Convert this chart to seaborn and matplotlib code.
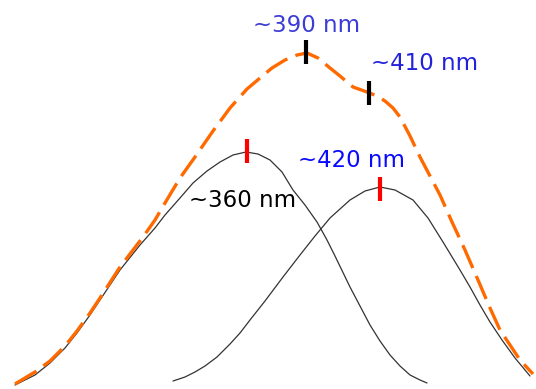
import matplotlib
matplotlib.use("Agg")
import matplotlib.pyplot as plt
import seaborn as sns
import pandas as pd

# curva da banda ~360 nm (posicao, intensidade)
x_360 = [15, 35, 50, 65, 77, 90, 100, 120, 140, 155, 165, 180, 193, 207, 220, 233,
         246, 258, 270, 282, 293, 305, 317, 327, 335, 350, 360, 370, 380, 390, 400,
         410, 420, 427]
y_360 = [4, 14, 26, 41, 56, 74, 89, 119, 144, 161, 174, 191, 206, 218, 227, 234,
         237, 235, 229, 217, 199, 184, 167, 149, 133, 102, 83, 64, 48, 34, 23,
         14, 9, 6]

# curva da banda ~420 nm
x_420 = [173, 185, 195, 205, 217, 230, 240, 250, 265, 283, 300, 315, 330, 350, 365,
         380, 395, 413, 428, 443, 460, 470, 480, 490, 502, 515, 530]
y_420 = [8, 12, 17, 23, 32, 45, 56, 69, 88, 112, 134, 153, 171, 189, 198,
         202, 199, 189, 171, 147, 119, 102, 84, 67, 49, 31, 13]

# envoltoria (soma) em laranja tracejado
x_env = [15, 35, 50, 65, 77, 90, 100, 120, 143, 155, 165, 180, 195, 213, 230, 247,
         260, 272, 285, 297, 307, 318, 330, 340, 353, 367, 377, 385, 393, 400, 410,
         420, 430, 440, 452, 465, 478, 490, 500, 510, 520, 533]
y_env = [5, 17, 28, 43, 58, 76, 91, 122, 152, 169, 186, 211, 232, 258, 281, 300,
         311, 321, 329, 334, 336, 331, 321, 313, 302, 297, 293, 288, 281, 272, 253,
         232, 213, 194, 167, 139, 109, 81, 59, 44, 29, 15]

# marcas
marca_preta = [(306, 337), (369, 296)]
marca_vermelha = [(247, 238), (380, 200)]

sns.set_theme(style="white")

fig = plt.figure(figsize=(5.36, 3.89), dpi=100)
ax = fig.add_axes([0, 0, 1, 1])

df1 = pd.DataFrame({"x": x_360, "y": y_360})
df2 = pd.DataFrame({"x": x_420, "y": y_420})
df3 = pd.DataFrame({"x": x_env, "y": y_env})

sns.lineplot(data=df1, x="x", y="y", ax=ax, color="#333333", lw=0.9,
             estimator=None, sort=False)
sns.lineplot(data=df2, x="x", y="y", ax=ax, color="#333333", lw=0.9,
             estimator=None, sort=False)
sns.lineplot(data=df3, x="x", y="y", ax=ax, color="#ff6a00", lw=2.4,
             estimator=None, sort=False, linestyle=(0, (7.5, 2.6)))

for mx, my in marca_preta:
    ax.plot([mx, mx], [my - 12, my + 12], color="black", lw=3, solid_capstyle="butt")
for mx, my in marca_vermelha:
    ax.plot([mx, mx], [my - 12, my + 12], color="#ff0000", lw=3, solid_capstyle="butt")

ax.text(307, 364, "~390 nm", color="#3c3cd6", fontsize=16.5, ha="center", va="center")
ax.text(425, 326, "~410 nm", color="#2222dd", fontsize=16.5, ha="center", va="center")
ax.text(352, 229, "~420 nm", color="#0a0aff", fontsize=16.5, ha="center", va="center")
ax.text(243, 189, "~360 nm", color="black", fontsize=16.5, ha="center", va="center")

ax.set_xlim(0, 536)
ax.set_ylim(0, 389)
ax.axis("off")

fig.savefig("out.png", dpi=100)
